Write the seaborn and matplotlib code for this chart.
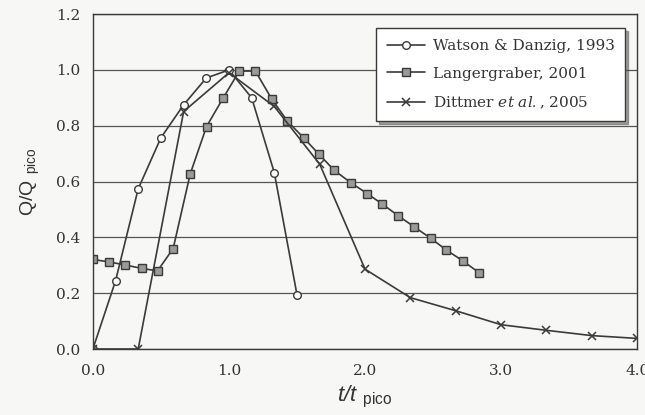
import matplotlib
matplotlib.use("Agg")
import matplotlib.pyplot as plt
import seaborn as sns

# Normalised hydrograph data: t/t_pico vs Q/Q_pico
watson_t = [0.0, 0.167, 0.333, 0.5, 0.667, 0.833, 1.0, 1.167, 1.333, 1.5]
watson_q = [0.0, 0.245, 0.574, 0.757, 0.875, 0.971, 1.0, 0.9, 0.632, 0.194]

langer_t = [0.0, 0.12, 0.238, 0.358, 0.475, 0.59, 0.715, 0.835, 0.958, 1.076,
            1.194, 1.314, 1.43, 1.548, 1.663, 1.774, 1.895, 2.015, 2.125, 2.245,
            2.36, 2.485, 2.596, 2.718, 2.836]
langer_q = [0.321, 0.312, 0.301, 0.289, 0.28, 0.36, 0.627, 0.797, 0.9, 0.996,
            0.996, 0.896, 0.816, 0.757, 0.697, 0.64, 0.596, 0.557, 0.52, 0.477,
            0.438, 0.396, 0.355, 0.316, 0.274]

dittmer_t = [0.0, 0.333, 0.667, 1.0, 1.333, 1.667, 2.0, 2.333, 2.667, 3.0,
             3.333, 3.667, 4.0]
dittmer_q = [0.0, 0.0, 0.851, 0.99, 0.869, 0.662, 0.286, 0.184, 0.137, 0.087,
             0.067, 0.048, 0.038]

y_ticks = [0.0, 0.2, 0.4, 0.6, 0.8, 1.0, 1.2]
x_ticks = [0.0, 1.0, 2.0, 3.0, 4.0]

sns.set_theme(style="white")
plt.rcParams["font.family"] = ["DejaVu Serif"]
plt.rcParams["mathtext.fontset"] = "custom"
plt.rcParams["mathtext.rm"] = "Liberation Sans"
plt.rcParams["mathtext.sf"] = "Liberation Sans:italic"
plt.rcParams["mathtext.it"] = "DejaVu Serif:italic"

ink = "#3a3a3a"
paper = "#f7f7f5"

fig = plt.figure(figsize=(6.45, 4.15), dpi=100, facecolor=paper)
ax = fig.add_axes([0.144, 0.159, 0.844, 0.807], facecolor=paper)

sns.lineplot(x=watson_t, y=watson_q, ax=ax, sort=False, color=ink, lw=1.2,
             marker="o", markersize=5.5, markerfacecolor="white",
             markeredgecolor=ink, markeredgewidth=1.0,
             label="Watson & Danzig, 1993")
sns.lineplot(x=langer_t, y=langer_q, ax=ax, sort=False, color=ink, lw=1.2,
             marker="s", markersize=5.5, markerfacecolor="#9a9a9a",
             markeredgecolor=ink, markeredgewidth=1.0,
             label="Langergraber, 2001")
sns.lineplot(x=dittmer_t, y=dittmer_q, ax=ax, sort=False, color=ink, lw=1.2,
             marker="x", markersize=6, markeredgecolor=ink, markeredgewidth=1.1,
             label=r"Dittmer $\mathit{et\ al.}$, 2005")

ax.set_xlim(0, 4.0)
ax.set_ylim(0, 1.2)
ax.set_xticks(x_ticks)
ax.set_xticklabels([f"{v:.1f}" for v in x_ticks])
ax.set_yticks(y_ticks)
ax.set_yticklabels([f"{v:.1f}" for v in y_ticks])
ax.tick_params(axis="both", direction="out", length=5, width=1, color=ink,
               labelsize=11, labelcolor="#333333", pad=4)
ax.tick_params(axis="x", pad=6)

ax.yaxis.grid(True, color="#555555", lw=0.9)
ax.xaxis.grid(False)
ax.set_axisbelow(True)
for side in ["left", "right", "top", "bottom"]:
    ax.spines[side].set_visible(True)
    ax.spines[side].set_color(ink)
    ax.spines[side].set_linewidth(1.0)

ax.set_xlabel(r"$\mathsf{t/t}$ $_{\rm pico}$", fontsize=16, color="#333333",
              labelpad=4)
ax.set_ylabel(r"$\rm Q/Q$ $_{\rm pico}$", fontsize=14, color="#333333",
              labelpad=10)

leg = ax.legend(loc="upper right", bbox_to_anchor=(0.978, 0.958),
                frameon=True, fancybox=False, shadow=True, fontsize=11,
                handlelength=2.5, borderpad=0.7, labelspacing=0.9,
                handletextpad=0.5, borderaxespad=0)
leg.get_frame().set_edgecolor(ink)
leg.get_frame().set_linewidth(1.0)
leg.get_frame().set_facecolor("white")
for t in leg.get_texts():
    t.set_color("#333333")

fig.savefig("out.png", dpi=100, facecolor=paper)
